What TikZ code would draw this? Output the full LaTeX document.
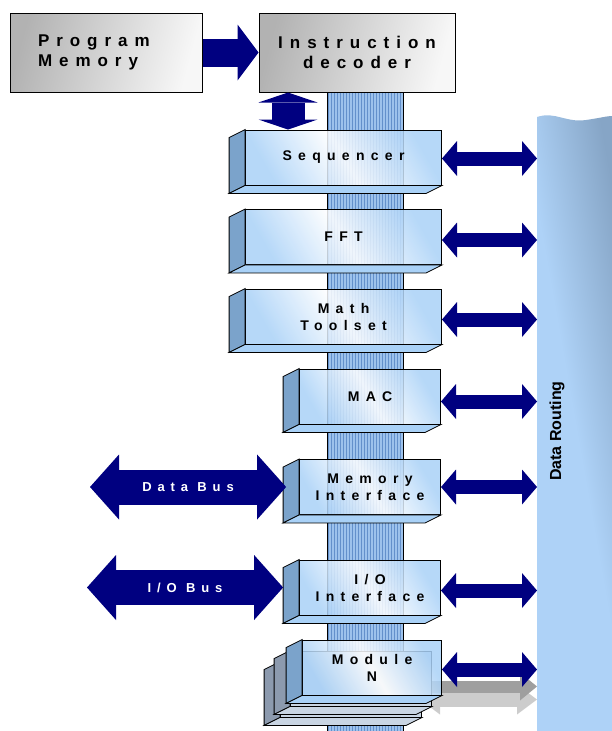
\documentclass[tikz,border=0pt]{standalone}
\usepackage{fontspec}
\setmainfont{Liberation Sans}
\newfontfamily\widefont[LetterSpace=45]{Liberation Sans}
\newfontfamily\topfont[LetterSpace=41]{Liberation Sans}
\usepackage{tikz}
\usetikzlibrary{arrows.meta,positioning}
\definecolor{dsnavy}{HTML}{000080}
\definecolor{modblue}{HTML}{A9D1F7}
\definecolor{modside}{HTML}{7BA3CB}
\definecolor{buslight}{HTML}{9DC2EC}
\definecolor{busstripe}{HTML}{6390CB}
\definecolor{routeblue}{HTML}{AED2F7}
\definecolor{routedark}{HTML}{86A5C6}
\definecolor{stackside}{HTML}{8C9AAE}
\definecolor{stackface}{HTML}{C9D5E3}

% side and bottom faces of a module block
\newcommand{\modfaces}[3]{%
  \filldraw[#2,draw=black,line width=0.8] (#1.south west) -- (#1.north west) -- ++(-16,8)
    -- ([shift={(-16,8)}]#1.south west) -- cycle;
  \filldraw[#3,draw=black,line width=0.8] (#1.south west) -- (#1.south east)
    -- ([shift={(-16,8)}]#1.south east) -- ([shift={(-16,8)}]#1.south west) -- cycle;}

\begin{document}
\begin{tikzpicture}[x=1pt,y=-1pt,
  graybox/.style={draw=black,line width=1,left color=gray!60,right color=gray!6,
    shading angle=75,minimum height=79,inner sep=0,
    font=\topfont\bfseries\fontsize{17}{20}\selectfont},
  modbox/.style={draw=black,line width=0.9,left color=modblue,right color=modblue,
    middle color=white,shading angle=120,fill opacity=0.85,text opacity=1,
    minimum height=55,inner sep=0,align=center,anchor=east,
    font=\widefont\bfseries\fontsize{14}{17}\selectfont},
  bigmod/.style={modbox,minimum width=196},
  smallmod/.style={modbox,minimum width=141},
  ghostmod/.style={smallmod,fill opacity=1,left color=stackface,right color=stackface,
    middle color=stackface},
  routearrow/.style={dsnavy,line width=14,
    {Triangle[length=15pt,width=35pt,line width=0pt]}-{Triangle[length=15pt,width=35pt,line width=0pt]}},
  busarrow/.style={dsnavy,line width=35,
    {Triangle[length=29pt,width=65pt,line width=0pt]}-{Triangle[length=29pt,width=65pt,line width=0pt]}},
  busfont/.style={text=white,font=\widefont\bfseries\fontsize{13}{15}\selectfont},
  ]
  \useasboundingbox (0,0) rectangle (612,731);

  % striped internal bus
  \fill[buslight] (327,92) rectangle (403,731);
  \foreach \x in {328.5,331.5,...,402}
    \draw[busstripe,line width=1.5] (\x,92) -- (\x,731);
  \draw[line width=1] (327,92) -- (327,731) (403,92) -- (403,731);

  % data routing column
  \shade[left color=routeblue,right color=routedark,middle color=routeblue,shading angle=100]
    (537,731) -- (537,117) .. controls (555,111) and (566,123) .. (586,120)
    .. controls (600,118) and (607,116) .. (612,116) -- (612,731) -- cycle;
  \node[rotate=90,font=\bfseries\fontsize{16}{18}\selectfont] (route) at (557,431) {Data Routing};
  \coordinate (rt) at (537,0);

  \node[graybox,minimum width=192,text width=136,align=left] (pm) at (106,52.5) {Program\\Memory};
  \node[graybox,minimum width=196,align=center] (dec) at (357,52.5) {Instruction\\decoder};

  \node[bigmod] (seq) at (442,157.5) {Sequencer};
  \modfaces{seq}{modside}{modblue}
  \node[bigmod] (fft) at (442,237) {FFT};
  \modfaces{fft}{modside}{modblue}
  \node[bigmod] (math) at (442,316.5) {Math\\Toolset};
  \modfaces{math}{modside}{modblue}
  \node[smallmod] (mac) at (441,396.5) {MAC};
  \modfaces{mac}{modside}{modblue}
  \node[smallmod] (memif) at (441,487) {Memory\\Interface};
  \modfaces{memif}{modside}{modblue}
  \node[smallmod] (ioif) at (441,587.5) {I/O\\Interface};
  \modfaces{ioif}{modside}{modblue}

  % shadow arrows and stacked modules behind Module N
  \coordinate (sh) at (432,678.5);
  \draw[gray!40,line width=14,{Triangle[length=20pt,width=30pt,line width=0pt]}-{Triangle[length=20pt,width=30pt,line width=0pt]}]
    ([shift={(-12,21)}]sh) -- ([shift={(0,21)}]sh -| rt);
  \draw[gray!75,line width=12,-{Triangle[length=17pt,width=28pt,line width=0pt]}]
    ([shift={(-2,8)}]sh) -- ([shift={(0,8)}]sh -| rt);
  \node[ghostmod] (modn3) at (422,689.5) {};
  \modfaces{modn3}{stackside}{stackface}
  \node[ghostmod] (modn2) at (432,678.5) {};
  \modfaces{modn2}{stackside}{stackface}
  \node[smallmod,minimum width=139] (modn) at (442,667.5) {Module\\N};
  \modfaces{modn}{modside}{modblue}

  % connectors
  \draw[dsnavy,line width=28,-{Triangle[length=21pt,width=56pt,line width=0pt]}] (pm.east) -- (dec.west);
  \draw[dsnavy,line width=33,{Triangle[length=10pt,width=59pt,line width=0pt]}-{Triangle[length=10pt,width=59pt,line width=0pt]}]
    ([xshift=29.5pt]dec.south west) -- ([xshift=29.5pt]dec.south west |- seq.north);
  \foreach \m/\dy in {seq/1,fft/3,math/3,mac/5,memif/0,ioif/3,modn/2}
    \draw[routearrow] ([yshift=-\dy pt]\m.east) -- ([yshift=-\dy pt]\m.east -| rt);

  \coordinate (dbl) at (90,487);
  \draw[busarrow] (dbl) -- ([xshift=-13pt]memif.west) node[midway,busfont] {Data Bus};
  \coordinate (iol) at (87,587.5);
  \draw[busarrow] (iol) -- ([xshift=-16pt]ioif.west) node[midway,busfont] {I/O Bus};
\end{tikzpicture}
\end{document}
